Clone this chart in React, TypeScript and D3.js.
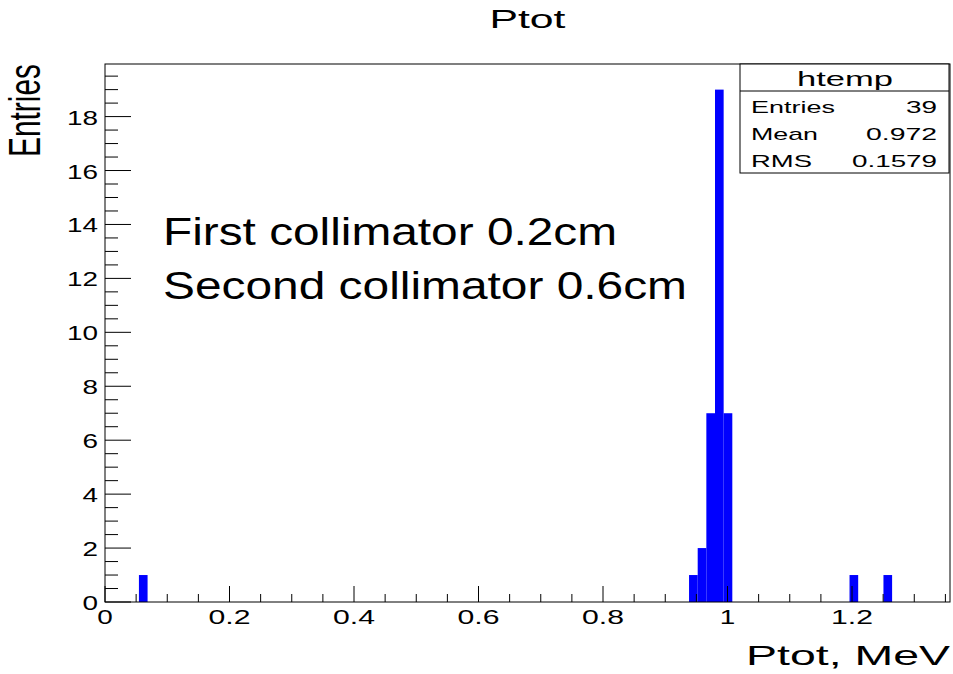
import React from "react";
import * as d3 from "d3";

// ---- data ----
const binLowEdges = [0.0545, 0.9382, 0.9521, 0.966, 0.9799, 0.9938, 1.196, 1.2505];
const binCounts = [1, 1, 2, 7, 19, 7, 1, 1];
const binWidth = 0.0139;
const xTickValues = [0, 0.2, 0.4, 0.6, 0.8, 1.0, 1.2];
const xTickLabels = ["0", "0.2", "0.4", "0.6", "0.8", "1", "1.2"];
const yTickValues = [0, 2, 4, 6, 8, 10, 12, 14, 16, 18];
const yTickLabels = ["0", "2", "4", "6", "8", "10", "12", "14", "16", "18"];
const statsLabels = ["Entries", "Mean", "RMS"];
const statsValues = ["39", "0.972", "0.1579"];
const titleText = "Ptot";
const xAxisTitle = "Ptot, MeV";
const yAxisTitle = "Entries";
const noteLines = ["First collimator 0.2cm", "Second collimator 0.6cm"];

const W = 953;
const H = 674;
const FONT = "'Liberation Sans', Arial, Helvetica, sans-serif";

const frame = { left: 105, right: 950, top: 64, bottom: 602 };

function SText(props: {
  x: number;
  y: number;
  w: number;
  size: number;
  anchor?: "start" | "middle" | "end";
  children: React.ReactNode;
}) {
  const { x, y, w, size, anchor = "start", children } = props;
  const x0 = anchor === "end" ? x - w : anchor === "middle" ? x - w / 2 : x;
  return (
    <text
      x={x0}
      y={y}
      fontSize={size}
      textLength={w}
      lengthAdjust="spacingAndGlyphs"
      fontFamily={FONT}
      fill="#000"
    >
      {children}
    </text>
  );
}

function labelWidth(s: string) {
  let w = 0;
  for (const c of s) w += c === "." ? 11 : 15.5;
  return w;
}

export default function App() {
  const x = d3.scaleLinear().domain([0, 1.3574]).range([frame.left, frame.right]);
  const y = d3.scaleLinear().domain([0, 19.95]).range([frame.bottom, frame.top]);

  const xMinor = d3.range(0, 1.3574, 0.05);
  const yMinor = d3.range(0, 19.95, 0.5);

  return (
    <svg
      width={W}
      height={H}
      style={{ position: "absolute", left: 0, top: 0, background: "#fff" }}
    >
      <rect x={0} y={0} width={W} height={H} fill="#fff" />

      {/* bars */}
      {binLowEdges.map((e, i) => (
        <rect
          key={i}
          x={x(e)}
          y={y(binCounts[i])}
          width={x(e + binWidth) - x(e)}
          height={y(0) - y(binCounts[i])}
          fill="#0000ff"
        />
      ))}

      {/* frame */}
      <rect
        x={frame.left}
        y={frame.top}
        width={frame.right - frame.left}
        height={frame.bottom - frame.top}
        fill="none"
        stroke="#000"
        strokeWidth={1}
      />

      {/* x ticks */}
      {xMinor.map((v, i) => {
        const major = Math.abs(v / 0.2 - Math.round(v / 0.2)) < 1e-6;
        return (
          <line
            key={"xm" + i}
            x1={x(v)}
            x2={x(v)}
            y1={frame.bottom}
            y2={frame.bottom - (major ? 16 : 8)}
            stroke="#000"
            strokeWidth={1}
          />
        );
      })}
      {xTickValues.map((v, i) => (
        <SText
          key={"xl" + i}
          x={x(v)}
          y={624}
          w={labelWidth(xTickLabels[i])}
          size={20}
          anchor="middle"
        >
          {xTickLabels[i]}
        </SText>
      ))}

      {/* y ticks */}
      {yMinor.map((v, i) => {
        const major = Math.abs(v / 2 - Math.round(v / 2)) < 1e-6;
        return (
          <line
            key={"ym" + i}
            x1={frame.left}
            x2={frame.left + (major ? 26 : 13)}
            y1={y(v)}
            y2={y(v)}
            stroke="#000"
            strokeWidth={1}
          />
        );
      })}
      {yTickValues.map((v, i) => (
        <SText
          key={"yl" + i}
          x={98}
          y={y(v) + 8}
          w={labelWidth(yTickLabels[i])}
          size={20}
          anchor="end"
        >
          {yTickLabels[i]}
        </SText>
      ))}

      {/* title */}
      <SText x={527.5} y={28} w={76} size={25} anchor="middle">
        {titleText}
      </SText>

      {/* x axis title */}
      <SText x={950} y={665} w={204} size={28} anchor="end">
        {xAxisTitle}
      </SText>

      {/* y axis title */}
      <g transform={`translate(40,${frame.top}) rotate(-90)`}>
        <SText x={0} y={0} w={93} size={44} anchor="end">
          {yAxisTitle}
        </SText>
      </g>

      {/* annotation */}
      <SText x={163} y={245} w={454} size={39}>
        {noteLines[0]}
      </SText>
      <SText x={163} y={299} w={524} size={39}>
        {noteLines[1]}
      </SText>

      {/* stats box */}
      <rect x={740} y={64} width={209} height={109} fill="#fff" stroke="#000" strokeWidth={1} />
      <line x1={740} x2={949} y1={91} y2={91} stroke="#000" strokeWidth={1} />
      <SText x={845} y={86} w={96} size={21} anchor="middle">
        htemp
      </SText>
      {statsLabels.map((l, i) => (
        <SText key={"sl" + i} x={751} y={113 + i * 27} w={[84, 67, 61][i]} size={17}>
          {l}
        </SText>
      ))}
      {statsValues.map((v, i) => (
        <SText key={"sv" + i} x={937} y={113 + i * 27} w={[31, 71, 85][i]} size={17} anchor="end">
          {v}
        </SText>
      ))}
    </svg>
  );
}
